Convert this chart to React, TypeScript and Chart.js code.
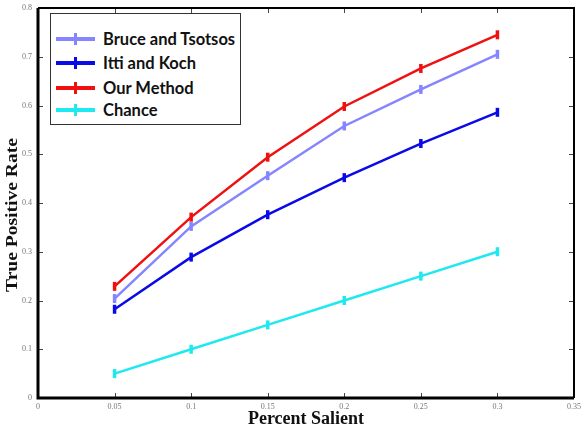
import React, { useEffect, useRef } from "react";
import { Chart, registerables } from "chart.js";

Chart.register(...registerables);

const xValues = [0.05, 0.1, 0.15, 0.2, 0.25, 0.3];
const bruceTsotsos = [0.204, 0.352, 0.456, 0.558, 0.633, 0.705];
const ittiKoch = [0.182, 0.289, 0.376, 0.452, 0.522, 0.586];
const ourMethod = [0.229, 0.371, 0.494, 0.598, 0.676, 0.745];
const chance = [0.05, 0.1, 0.15, 0.2, 0.25, 0.3];

const seriesNames = ["Bruce and Tsotsos", "Itti and Koch", "Our Method", "Chance"];
const seriesColors = ["#8585ff", "#0a0ae8", "#f01010", "#1ee8f0"];
const seriesData = [bruceTsotsos, ittiKoch, ourMethod, chance];

const xTicks = [0, 0.05, 0.1, 0.15, 0.2, 0.25, 0.3, 0.35];
const yTicks = [0, 0.1, 0.2, 0.3, 0.4, 0.5, 0.6, 0.7, 0.8];
const yTitle = "True Positive Rate";

const framePlugin = {
  id: "framePlugin",
  afterDraw(chart: any) {
    const { ctx, chartArea } = chart;
    const { left, right, top, bottom } = chartArea;
    const xs = chart.scales.x;
    const ys = chart.scales.y;
    ctx.save();
    ctx.strokeStyle = "#444";
    ctx.lineWidth = 1;
    xTicks.forEach((v) => {
      const px = Math.round(xs.getPixelForValue(v)) + 0.5;
      ctx.beginPath();
      ctx.moveTo(px, bottom);
      ctx.lineTo(px, bottom - 5);
      ctx.moveTo(px, top);
      ctx.lineTo(px, top + 5);
      ctx.stroke();
    });
    yTicks.forEach((v) => {
      const py = Math.round(ys.getPixelForValue(v)) + 0.5;
      ctx.beginPath();
      ctx.moveTo(left, py);
      ctx.lineTo(left + 5, py);
      ctx.moveTo(right, py);
      ctx.lineTo(right - 5, py);
      ctx.stroke();
    });
    ctx.strokeStyle = "#000";
    ctx.lineWidth = 2;
    ctx.beginPath();
    ctx.moveTo(left, top);
    ctx.lineTo(right, top);
    ctx.lineTo(right, bottom);
    ctx.stroke();
    ctx.lineWidth = 3;
    ctx.beginPath();
    ctx.moveTo(left, top);
    ctx.lineTo(left, bottom);
    ctx.lineTo(right, bottom);
    ctx.stroke();

    // y-axis title (slightly stretched along its length like the reference)
    ctx.translate(13, 215);
    ctx.rotate(-Math.PI / 2);
    ctx.scale(1.15, 1);
    ctx.fillStyle = "#111";
    ctx.font = "bold 17px 'Liberation Serif'";
    ctx.textAlign = "center";
    ctx.textBaseline = "middle";
    ctx.fillText(yTitle, 0, 0);
    ctx.restore();
  },
};

export default function App() {
  const canvasRef = useRef<HTMLCanvasElement | null>(null);

  useEffect(() => {
    if (!canvasRef.current) return;
    const chart = new Chart(canvasRef.current, {
      type: "line",
      data: {
        datasets: seriesNames.map((name, i) => ({
          label: name,
          data: xValues.map((x, j) => ({ x, y: seriesData[i][j] })),
          borderColor: seriesColors[i],
          backgroundColor: seriesColors[i],
          borderWidth: 2.5,
          pointStyle: "line",
          rotation: 90,
          pointRadius: 4.5,
          pointBorderWidth: 3.5,
          tension: 0,
        })),
      },
      options: {
        responsive: false,
        animation: false,
        layout: { padding: { top: 5, right: 4, left: 0, bottom: 0 } },
        plugins: { legend: { display: false }, tooltip: { enabled: false } },
        scales: {
          x: {
            type: "linear",
            min: 0,
            max: 0.35,
            grid: { display: false, drawTicks: false },
            border: { display: false },
            afterBuildTicks: (s: any) => {
              s.ticks = xTicks.map((v) => ({ value: v }));
            },
            ticks: {
              padding: 4,
              color: "#777",
              font: { family: "Liberation Serif", size: 8 },
              callback: (v: any) => String(v),
              maxRotation: 0,
              autoSkip: false,
            },
            title: {
              display: true,
              text: "Percent Salient",
              color: "#111",
              font: { family: "Liberation Serif", size: 18, weight: "bold" },
              padding: { top: 0, bottom: 0 },
            },
            afterFit: (s: any) => {
              s.height = 32;
              s.paddingLeft = 0;
              s.paddingRight = 0;
            },
          },
          y: {
            type: "linear",
            min: 0,
            max: 0.8,
            grid: { display: false, drawTicks: false },
            border: { display: false },
            afterBuildTicks: (s: any) => {
              s.ticks = yTicks.map((v) => ({ value: v }));
            },
            ticks: {
              padding: 6,
              color: "#777",
              font: { family: "Liberation Serif", size: 8 },
              callback: (v: any) => String(v),
              autoSkip: false,
            },
            title: { display: false, text: yTitle },
            afterFit: (s: any) => {
              s.width = 38;
              s.paddingTop = 0;
              s.paddingBottom = 0;
            },
          },
        },
      },
      plugins: [framePlugin],
    } as any);
    return () => chart.destroy();
  }, []);

  const rowCenters = [25, 49, 74, 96];

  return (
    <div style={{ position: "absolute", left: 0, top: 0, width: 582, height: 430, background: "#fff" }}>
      <canvas ref={canvasRef} width={582} height={430} style={{ display: "block" }} />
      <div
        style={{
          position: "absolute",
          left: 50,
          top: 13,
          width: 191,
          height: 112,
          border: "1px solid #333",
          background: "#fff",
          boxSizing: "border-box",
        }}
      >
        {seriesNames.map((name, i) => (
          <div
            key={name}
            style={{
              position: "absolute",
              left: 0,
              top: rowCenters[i] - 11,
              height: 22,
              width: 189,
            }}
          >
            <div
              style={{
                position: "absolute",
                left: 5,
                top: 9,
                width: 39,
                height: 4,
                background: seriesColors[i],
              }}
            />
            <div
              style={{
                position: "absolute",
                left: 23,
                top: 5,
                width: 3,
                height: 12,
                background: seriesColors[i],
              }}
            />
            <div
              style={{
                position: "absolute",
                left: 52,
                top: 0,
                lineHeight: "22px",
                fontFamily: "Lato, 'Open Sans', sans-serif",
                fontWeight: 700,
                fontSize: 16.5,
                color: "#111",
                whiteSpace: "nowrap",
              }}
            >
              {name}
            </div>
          </div>
        ))}
      </div>
    </div>
  );
}
